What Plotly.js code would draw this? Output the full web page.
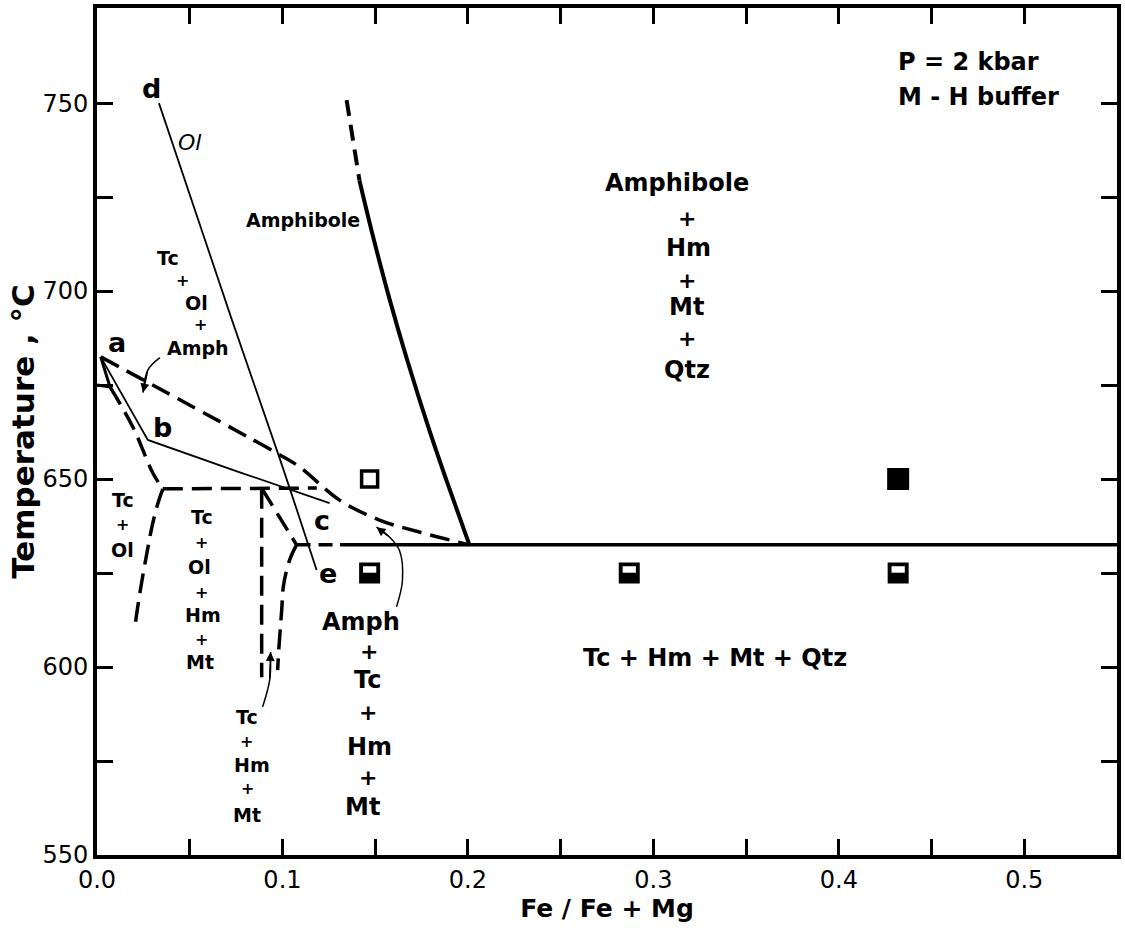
<!DOCTYPE html>
<html>
<head>
<meta charset="utf-8">
<script src="https://cdn.plot.ly/plotly-3.0.1.min.js"></script>
<style>html,body{margin:0;padding:0;background:#fff;}#chart{width:1125px;height:928px;}</style>
</head>
<body>
<div id="chart"></div>
<script>
// ---------- data (Fe/(Fe+Mg), temperature °C) ----------
const xTickVals = [0, 0.05, 0.1, 0.15, 0.2, 0.25, 0.3, 0.35, 0.4, 0.45, 0.5];
const xTickText = ['0.0', '', '0.1', '', '0.2', '', '0.3', '', '0.4', '', '0.5'];
const yTickVals = [550, 575, 600, 625, 650, 675, 700, 725, 750];
const yTickText = ['550', '', '600', '', '650', '', '700', '', '750'];

// thin solid: olivine line d–e
const lineDE_x = [0.0334, 0.0727, 0.0985, 0.1184];
const lineDE_T = [750.0, 692.4, 655.5, 625.8];
// thin solid: a–b–c
const lineABC_x = [0.002, 0.0274, 0.077, 0.1254];
const lineABC_T = [682.5, 660.4, 651.8, 643.6];
// dashed: upper boundary from a to amphibole end point
const upperDash_x = [0.002, 0.0969, 0.1093, 0.1308, 0.1523, 0.1738, 0.2008];
const upperDash_T = [682.5, 656.9, 653.2, 644.4, 639.1, 635.9, 632.5];
// dashed: a down to left triple junction
const leftDash_x = [0.007, 0.0194, 0.0301, 0.0355];
const leftDash_T = [674.5, 663.8, 651.6, 647.4];
// small solid corner at a
const cornerA_x = [0.0, 0.007, 0.002];
const cornerA_T = [675.0, 674.5, 682.5];
// dashed: from left junction downward
const leftDown_x = [0.0355, 0.0325, 0.0296, 0.0269, 0.0231, 0.0205];
const leftDown_T = [647.4, 643.0, 637.2, 630.3, 619.7, 611.0];
// dashed horizontal near 647 °C
const h647_x = [0.0355, 0.1185];
const h647_T = [647.4, 647.6];
// dashed vertical at 0.089
const vDash_x = [0.0888, 0.0888];
const vDash_T = [647.4, 597.3];
// dashed diagonal to lower junction
const diagDash_x = [0.0888, 0.0904, 0.1076];
const diagDash_T = [647.4, 646.3, 632.5];
// dashed from lower junction downward
const rightDown_x = [0.1076, 0.1039, 0.1006, 0.0996, 0.098, 0.0974];
const rightDown_T = [632.5, 628.5, 621.8, 615.2, 604.5, 599.2];
// 632.5 °C boundary: dashed part then solid
const h632dash_x = [0.1076, 0.131];
const h632dash_T = [632.5, 632.5];
const h632solid_x = [0.131, 0.55];
const h632solid_T = [632.5, 632.5];
// thick amphibole curve
const amphDash_x = [0.1346, 0.1415];
const amphDash_T = [750.8, 729.5];
const amphSolid_x = [0.1415, 0.1484, 0.1579, 0.1673, 0.1792, 0.1884, 0.2008];
const amphSolid_T = [729.5, 715.4, 697.6, 681.6, 663.0, 649.7, 632.5];

// curved pointer arrows
const arrow1_x = [0.0339, 0.0274, 0.0248];
const arrow1_T = [682.3, 679.0, 673.0];
const arrow2_x = [0.0893, 0.0931, 0.0936];
const arrow2_T = [589.4, 596.5, 604.0];
const arrow3_x = [0.1615, 0.1647, 0.1631, 0.1577, 0.1507];
const arrow3_T = [616.0, 623.0, 631.0, 634.6, 637.2];

// experiments
const openSq_x = [0.147];
const openSq_T = [650];
const fullSq_x = [0.432];
const fullSq_T = [650];
const halfSq_x = [0.147, 0.287, 0.432];
const halfSq_T = [625, 625, 625];

// text labels
const labelText = ['Tc','+','Ol','+','Amph','Amphibole',
  'Tc','+','Ol',
  'Tc','+','Ol','+','Hm','+','Mt',
  'Tc','+','Hm','+','Mt',
  'Amph','+','Tc','+','Hm','+','Mt',
  'Amphibole','+','Hm','+','Mt','+','Qtz',
  'Tc + Hm + Mt + Qtz',
  'a','b','c','d','e','Ol'];
const labelX = [0.0382,0.0463,0.0538,0.056,0.0544,0.1109,
  0.014,0.014,0.0135,
  0.0565,0.0565,0.0554,0.0565,0.057,0.0565,0.0554,
  0.0807,0.0807,0.0834,0.0813,0.0807,
  0.1426,0.1469,0.1459,0.1459,0.1469,0.1459,0.1432,
  0.3127,0.3181,0.3192,0.3181,0.3181,0.3181,0.3181,
  0.3332,
  0.0108,0.0355,0.1211,0.0296,0.1243,0.0501];
const labelT = [708.8,702.9,696.8,691.0,684.8,718.9,
  644.4,637.8,631.1,
  639.9,633.2,626.6,619.9,613.8,607.2,601.3,
  586.7,580.1,573.9,567.6,560.6,
  612.0,604.0,596.5,588.0,578.7,570.7,562.8,
  728.7,719.4,711.4,702.9,695.7,687.5,679.0,
  602.4,
  686.2,663.8,639.1,754.0,625.0,739.6];
const labelKind = ['s','ps','s','ps','s','s',
  's','ps','s',
  's','ps','s','ps','s','ps','s',
  's','ps','s','ps','s',
  'L','pL','L','pL','L','pL','L',
  'L','pL','L','pL','L','pL','L',
  'L',
  'letter','letter','letter','letter','letter','ital'];
const noteText = ['P = 2 kbar', 'M - H buffer'];
const noteX = [0.4311, 0.4311];
const noteT = [760.9, 751.6];

// ---------- styles ----------
const FONT = 'DejaVu Sans';
const kindStyle = {
  s:      {size: 19, weight: 'bold', style: 'normal'},
  ps:     {size: 16, weight: 'bold', style: 'normal'},
  L:      {size: 24, weight: 'bold', style: 'normal'},
  pL:     {size: 22, weight: 'bold', style: 'normal'},
  letter: {size: 27, weight: 'bold', style: 'normal'},
  ital:   {size: 22, weight: 'normal', style: 'italic'}
};
const DASH = '20px,9px';

function line(x, y, width, dash, smooth) {
  return {x: x, y: y, type: 'scatter', mode: 'lines', hoverinfo: 'skip',
    line: {color: '#000', width: width, dash: dash || 'solid', shape: smooth ? 'spline' : 'linear'}};
}

const traces = [
  line(lineDE_x, lineDE_T, 1.8, 'solid', true),
  line(lineABC_x, lineABC_T, 1.8, 'solid', false),
  line(upperDash_x, upperDash_T, 3.5, DASH, true),
  line(cornerA_x, cornerA_T, 3, 'solid', false),
  line(leftDash_x, leftDash_T, 3.5, DASH, true),
  line(leftDown_x, leftDown_T, 3.5, DASH, true),
  line(h647_x, h647_T, 3.5, DASH, false),
  line(vDash_x, vDash_T, 3.5, DASH, false),
  line(diagDash_x, diagDash_T, 3.5, DASH, false),
  line(rightDown_x, rightDown_T, 3.5, DASH, true),
  line(h632dash_x, h632dash_T, 3.5, '14px,8px', false),
  line(h632solid_x, h632solid_T, 3.5, 'solid', false),
  line(amphDash_x, amphDash_T, 4, '16px,9px', false),
  line(amphSolid_x, amphSolid_T, 4, 'solid', true),
  line(arrow1_x, arrow1_T, 1.5, 'solid', true),
  line(arrow2_x, arrow2_T, 1.5, 'solid', true),
  line(arrow3_x, arrow3_T, 1.5, 'solid', true),
  {x: openSq_x, y: openSq_T, type: 'scatter', mode: 'markers', hoverinfo: 'skip',
    marker: {symbol: 'square-open', size: 16, color: '#000', line: {width: 3.5, color: '#000'}}},
  {x: fullSq_x, y: fullSq_T, type: 'scatter', mode: 'markers', hoverinfo: 'skip',
    marker: {symbol: 'square', size: 20, color: '#000', line: {width: 2, color: '#000'}}},
  {x: halfSq_x, y: halfSq_T, type: 'scatter', mode: 'markers', hoverinfo: 'skip',
    marker: {symbol: 'square', size: 19, color: '#000', line: {width: 2, color: '#000'}}},
  {x: halfSq_x, y: halfSq_T.map(v => v + 0.95), type: 'scatter', mode: 'markers', hoverinfo: 'skip',
    marker: {symbol: 'line-ew', size: 9.5, color: '#fff', line: {width: 6.5, color: '#fff'}}}
];

const annotations = [];
labelText.forEach((t, i) => {
  const st = kindStyle[labelKind[i]];
  annotations.push({x: labelX[i], y: labelT[i], xref: 'x', yref: 'y', text: t, showarrow: false,
    xanchor: 'center', yanchor: 'middle',
    font: {family: FONT, size: st.size, color: '#000', weight: st.weight, style: st.style}});
});
noteText.forEach((t, i) => {
  annotations.push({x: noteX[i], y: noteT[i], xref: 'x', yref: 'y', text: t, showarrow: false,
    xanchor: 'left', yanchor: 'middle',
    font: {family: FONT, size: 24, color: '#000', weight: 'bold'}});
});
// arrowheads at the end of each pointer curve
[[arrow1_x, arrow1_T], [arrow2_x, arrow2_T], [arrow3_x, arrow3_T]].forEach(([ax, at]) => {
  const n = ax.length;
  annotations.push({x: ax[n - 1], y: at[n - 1], ax: ax[n - 2], ay: at[n - 2],
    xref: 'x', yref: 'y', axref: 'x', ayref: 'y', text: '', showarrow: true,
    arrowhead: 2, arrowsize: 1.2, arrowwidth: 1.5, arrowcolor: '#000'});
});

const axisCommon = {
  showgrid: false, zeroline: false, showline: true, linecolor: '#000', linewidth: 4,
  mirror: 'ticks', ticks: 'inside', ticklen: 16, tickwidth: 3, tickcolor: '#000',
  tickmode: 'array', tickfont: {family: FONT, size: 24, color: '#000'}
};

const layout = {
  width: 1125, height: 928,
  margin: {l: 97, r: 8, t: 8, b: 73},
  paper_bgcolor: '#fff', plot_bgcolor: '#fff',
  showlegend: false,
  xaxis: Object.assign({}, axisCommon, {
    range: [0, 0.55], tickvals: xTickVals, ticktext: xTickText,
    title: {text: 'Fe / Fe + Mg', font: {family: FONT, size: 25, color: '#000', weight: 'bold'}, standoff: 8}
  }),
  yaxis: Object.assign({}, axisCommon, {
    range: [550, 775.3], tickvals: yTickVals, ticktext: yTickText,
    title: {text: 'Temperature , °C', font: {family: FONT, size: 31, color: '#000', weight: 'bold'}, standoff: 0}
  }),
  annotations: annotations
};

Plotly.newPlot('chart', traces, layout, {displayModeBar: false, staticPlot: true});
</script>
</body>
</html>
